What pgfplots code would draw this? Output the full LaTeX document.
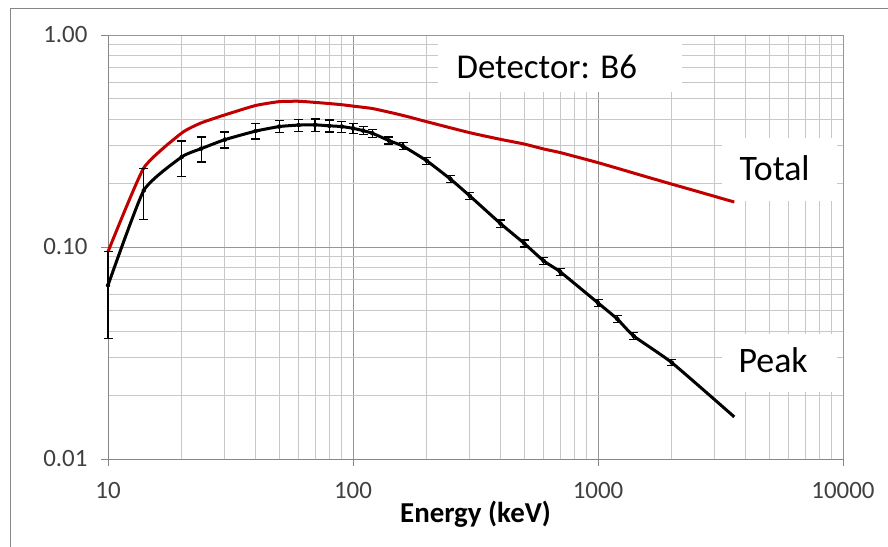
\documentclass[border=0pt]{standalone}
\usepackage{fontspec}
\setmainfont{Carlito}
\usepackage{pgfplots}
\pgfplotsset{compat=1.18}
\definecolor{totalred}{RGB}{192,0,0}
\definecolor{majgrid}{RGB}{150,150,150}
\definecolor{mingrid}{RGB}{200,200,200}
\definecolor{axgray}{RGB}{134,134,134}
\definecolor{ticktext}{RGB}{64,64,64}
\begin{document}
\begin{tikzpicture}
\useasboundingbox (0bp,0bp) rectangle (888bp,-547bp);
\draw[color=axgray, line width=1bp] (10bp,-547bp) -- (10bp,-8bp) -- (888bp,-8bp);
\begin{axis}[
  at={(108bp,-459bp)}, anchor=south west,
  scale only axis, width=735bp, height=424bp,
  xmode=log, ymode=log,
  xmin=10, xmax=10000, ymin=0.01, ymax=1,
  axis lines*=left,
  axis line style={color=axgray, line width=1bp},
  xtick={10,100,1000,10000}, xticklabels={10,100,1000,10000},
  ytick={0.01,0.1,1}, yticklabels={0.01,0.10,1.00},
  minor xtick={20,30,40,50,60,70,80,90,200,300,400,500,600,700,800,900,2000,3000,4000,5000,6000,7000,8000,9000},
  minor ytick={0.02,0.03,0.04,0.05,0.06,0.07,0.08,0.09,0.2,0.3,0.4,0.5,0.6,0.7,0.8,0.9},
  grid=both,
  major grid style={color=majgrid, line width=1bp},
  minor grid style={color=mingrid, line width=1bp},
  tick align=outside, major tick length=7bp, minor tick length=0.01bp,
  tick style={color=axgray, line width=1bp},
  /pgf/number format/assume math mode=true,
  ticklabel style={font=\fontsize{25}{29}\selectfont, text=ticktext},
  xticklabel style={yshift=-13bp},
  yticklabel style={xshift=-10bp},
  xlabel={Energy (keV)},
  xlabel style={font=\bfseries\fontsize{29}{33}\selectfont, at={(axis description cs:0.5,0)}, anchor=center, yshift=-55bp},
  clip=false,
]
\fill[white] (rel axis cs:0.449,0.997) rectangle (rel axis cs:0.781,0.866);
\fill[white] (rel axis cs:0.835,0.608) rectangle (rel axis cs:0.992,0.757);
\fill[white] (rel axis cs:0.835,0.158) rectangle (rel axis cs:0.992,0.295);
\node[inner sep=0pt, font=\fontsize{35}{40}\selectfont] at (rel axis cs:0.597,0.926) {Detector: B6};
\node[inner sep=0pt, font=\fontsize{36}{40}\selectfont] at (rel axis cs:0.907,0.686) {Total};
\node[inner sep=0pt, font=\fontsize{36}{40}\selectfont] at (rel axis cs:0.905,0.232) {Peak};
\addplot[color=totalred, line width=3bp, no marks, line join=round, smooth, tension=0.3] coordinates {
(10,0.095) (14,0.236) (20,0.345) (24,0.385) (30,0.42) (40,0.465) (50,0.485) (60,0.487) (70,0.481) (80,0.475) (90,0.469) (100,0.462) (120,0.45) (150,0.425) (170,0.41) (200,0.39) (300,0.346) (400,0.322) (500,0.306) (600,0.29) (700,0.279) (1000,0.25) (1500,0.218) (2000,0.198) (2500,0.184) (3600,0.163)
};
\addplot[color=black, line width=3bp, no marks, line join=round, smooth, tension=0.3] coordinates {
(10,0.066) (14,0.185) (20,0.266) (24,0.291) (30,0.321) (40,0.352) (50,0.37) (60,0.376) (70,0.377) (80,0.373) (90,0.37) (100,0.363) (110,0.354) (120,0.344) (140,0.318) (160,0.299) (200,0.255) (250,0.209) (300,0.174) (400,0.129) (500,0.104) (600,0.086) (700,0.0765) (1000,0.0545) (1200,0.0457) (1400,0.038) (2000,0.0285) (3600,0.0158)
};
\addplot[only marks, mark=none, draw=black,
  error bars/.cd, y dir=both, y explicit,
  error bar style={line width=1.2bp, black},
  error mark options={rotate=90, mark size=4.5bp, line width=1.2bp, black}]
coordinates {
(10,0.066) +- (0,0.029)
(14,0.185) +- (0,0.05)
(20,0.266) +- (0,0.05)
(24,0.291) +- (0,0.039)
(30,0.321) +- (0,0.028)
(40,0.352) +- (0,0.029)
(50,0.37) +- (0,0.024)
(60,0.376) +- (0,0.025)
(70,0.377) +- (0,0.025)
(80,0.373) +- (0,0.024)
(90,0.37) +- (0,0.022)
(100,0.363) +- (0,0.02)
(110,0.354) +- (0,0.016)
(120,0.344) +- (0,0.015)
(140,0.318) +- (0,0.012)
(160,0.299) +- (0,0.011)
(200,0.255) +- (0,0.01)
(250,0.209) +- (0,0.008)
(300,0.174) +- (0,0.007)
(400,0.129) +- (0,0.005)
(500,0.104) +- (0,0.004)
(600,0.086) +- (0,0.0035)
(700,0.0765) +- (0,0.003)
(1000,0.0545) +- (0,0.002)
(1200,0.0457) +- (0,0.0018)
(1400,0.038) +- (0,0.0015)
(2000,0.0285) +- (0,0.001)
};
\end{axis}
\end{tikzpicture}
\end{document}
